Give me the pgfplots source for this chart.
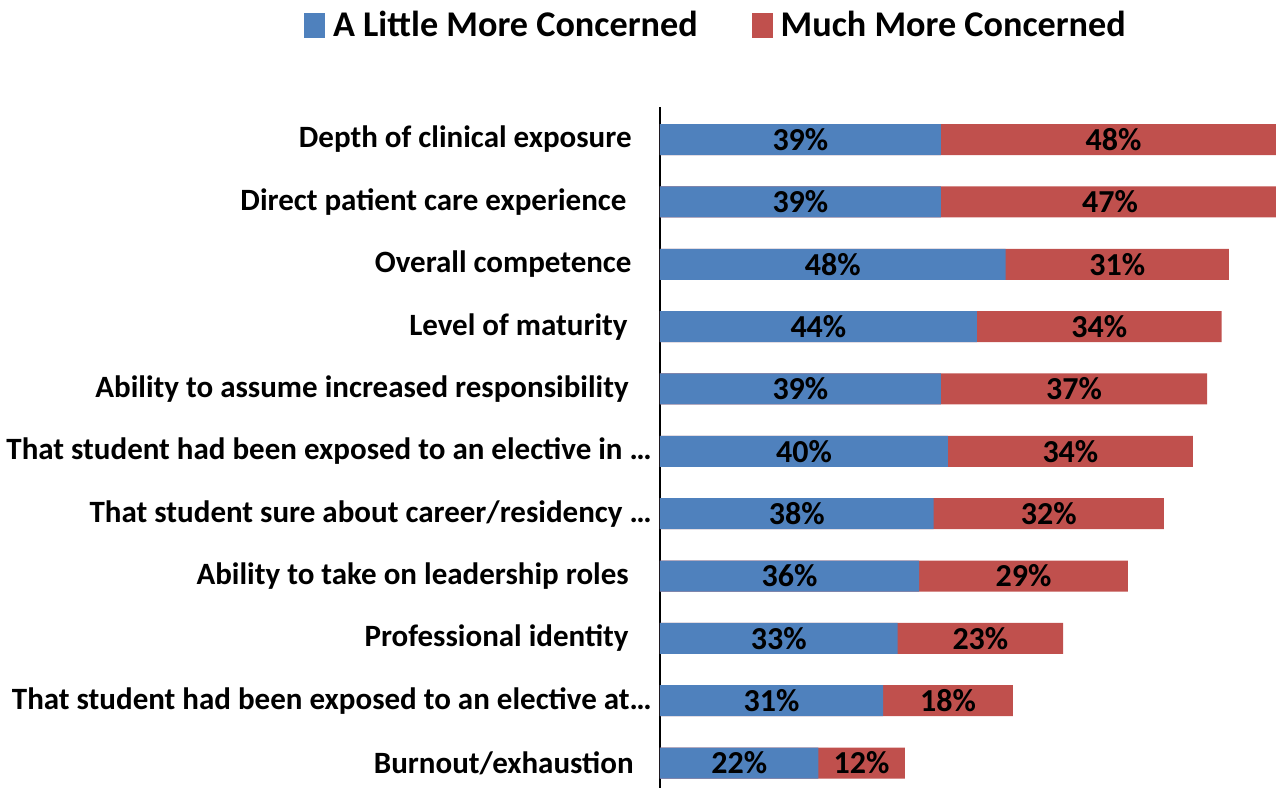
\documentclass[border=0pt]{standalone}
\usepackage{pgfplots}
\usepackage{pgfplotstable}
\pgfplotsset{compat=1.18}
\usepackage{fontspec}
\setmainfont{Carlito}
\definecolor{cblue}{HTML}{4F81BD}
\definecolor{cred}{HTML}{C0504D}
\pgfplotstableread{
y a b
0 22 12
1 31 18
2 33 23
3 36 29
4 38 32
5 40 34
6 39 37
7 44 34
8 48 31
9 39 47
10 39 48
}\data
\begin{document}
\begin{tikzpicture}
\begin{axis}[
  at={(0,0)}, anchor=south west,
  x=3.6bp, y=31.175bp,
  xmin=0, xmax=85.56, ymin=-0.40, ymax=10.52,
  axis x line=none, axis y line=left,
  axis line style={-, black, line width=1bp},
  ytick={0,...,10},
  yticklabels={
    Burnout/exhaustion\hspace*{9bp},
    That student had been exposed to an elective at…,
    Professional identity\hspace*{11.5bp},
    Ability to take on leadership roles\hspace*{11.5bp},
    That student sure about career/residency …,
    That student had been exposed to an elective in …,
    Ability to assume increased responsibility\hspace*{11.5bp},
    Level of maturity\hspace*{12bp},
    Overall competence\hspace*{10bp},
    Direct patient care experience\hspace*{12.5bp},
    Depth of clinical exposure\hspace*{10bp}},
  major tick length=0,
  yticklabel style={font=\fontsize{15.5bp}{18bp}\selectfont\bfseries, inner sep=0pt, xshift=-4bp},
  legend style={at={(0.0925,1.120)}, anchor=center, draw=none, fill=none,
    legend columns=2, font=\fontsize{18.1bp}{20bp}\selectfont\bfseries,
    /tikz/every even column/.append style={column sep=25bp},
    inner sep=0pt, nodes={inner sep=2bp}},
  legend image code/.code={\fill[#1,draw=none] (-4.5bp,-6.25bp) rectangle (6bp,6.25bp);},
  lbl/.style={draw=none, mark=none, nodes near coords={\pgfmathprintnumber[assume math mode=true]{\pgfplotspointmeta}\%},
    every node near coord/.style={anchor=center, inner sep=0pt, font=\fontsize{16bp}{18bp}\selectfont\bfseries, text=black}},
]
\addlegendimage{fill=cblue}
\addlegendentry{\hspace{2bp}A Little More Concerned}
\addlegendimage{fill=cred}
\addlegendentry{\hspace{2bp}Much More Concerned}
\addplot[xbar, bar width=15.5bp, bar shift=0pt, fill=cred, draw=none, forget plot]
  table[x expr=\thisrow{a}+\thisrow{b}, y=y]{\data};
\addplot[xbar, bar width=15.5bp, bar shift=0pt, fill=cblue, draw=none, forget plot]
  table[x=a, y=y]{\data};
\addplot[lbl, forget plot, point meta=\thisrow{a}]
  table[x expr=\thisrow{a}/2, y=y]{\data};
\addplot[lbl, forget plot, point meta=\thisrow{b}]
  table[x expr=\thisrow{a}+\thisrow{b}/2, y=y]{\data};
\end{axis}
\pgfresetboundingbox
\path (-330bp,0) rectangle (308bp,394bp);
\end{tikzpicture}
\end{document}
